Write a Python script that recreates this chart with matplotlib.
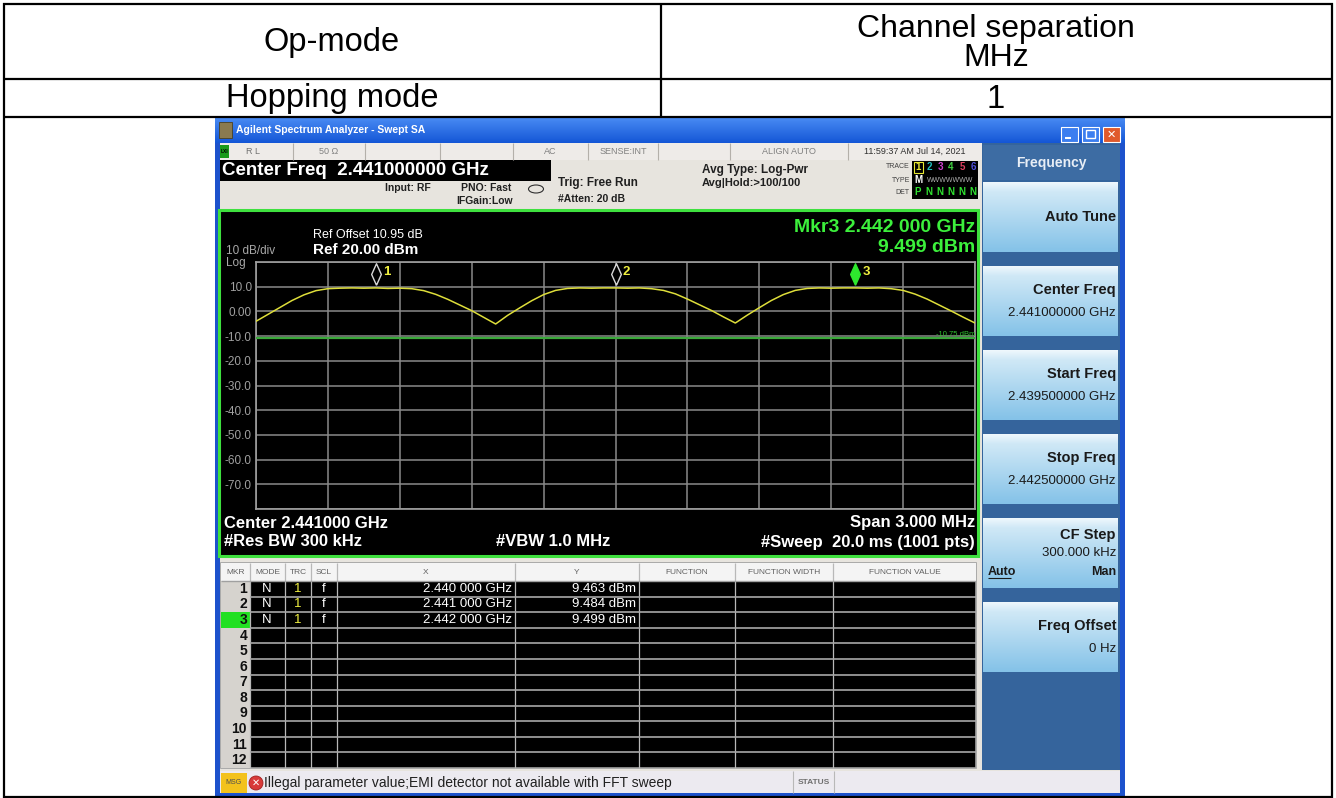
import numpy as np
import matplotlib.pyplot as plt
import matplotlib.transforms as mtransforms
from matplotlib.patches import Rectangle, Circle, Ellipse
from matplotlib.colors import to_rgb

plt.rcParams['font.family'] = ['Liberation Sans', 'DejaVu Sans']

# report table text
col_titles = ['Op-mode', 'Channel separation', 'MHz']
row_values = ['Hopping mode', '1']

# analyzer settings as shown on screen
center_mhz = 2441.0
span_mhz = 3.0
ref_dbm = 20.0
db_per_div = 10.0
line_dbm = -10.75
y_labels = ['', '-70.0', '-60.0', '-50.0', '-40.0', '-30.0', '-20.0', '-10.0', '0.00', '10.0', '']

# trace 1
trace_mhz = [2439.50, 2439.55, 2439.60, 2439.65, 2439.70, 2439.75, 2439.80, 2439.85, 2439.90, 2439.95,
             2440.00, 2440.05, 2440.10, 2440.15, 2440.20, 2440.25, 2440.30, 2440.35, 2440.40, 2440.45,
             2440.50, 2440.55, 2440.60, 2440.65, 2440.70, 2440.75, 2440.80, 2440.85, 2440.90, 2440.95,
             2441.00, 2441.05, 2441.10, 2441.15, 2441.20, 2441.25, 2441.30, 2441.35, 2441.40, 2441.45,
             2441.50, 2441.55, 2441.60, 2441.65, 2441.70, 2441.75, 2441.80, 2441.85, 2441.90, 2441.95,
             2442.00, 2442.05, 2442.10, 2442.15, 2442.20, 2442.25, 2442.30, 2442.35, 2442.40, 2442.45,
             2442.50]
trace_dbm = [-4.0, -1.2, 1.6, 4.4, 6.7, 8.4, 9.2, 9.4, 9.5, 9.4,
             9.5, 9.3, 9.4, 9.2, 8.4, 6.9, 4.9, 2.6, 0.3, -2.4,
             -5.1, -1.6, 1.4, 4.3, 6.8, 8.5, 9.3, 9.5, 9.4, 9.5,
             9.5, 9.4, 9.5, 9.2, 8.5, 7.1, 5.0, 2.7, 0.4, -2.2,
             -4.7, -1.5, 1.5, 4.4, 6.8, 8.5, 9.3, 9.5, 9.4, 9.5,
             9.5, 9.4, 9.5, 9.2, 8.5, 7.0, 5.0, 2.6, 0.2, -2.3,
             -4.7]

# marker table
mkr_mhz = [2440.0, 2441.0, 2442.0]
mkr_dbm = [9.463, 9.484, 9.499]
mkr_x_text = ['2.440 000 GHz', '2.441 000 GHz', '2.442 000 GHz']
mkr_cols = ['MKR', 'MODE', 'TRC', 'SCL', 'X', 'Y', 'FUNCTION', 'FUNCTION WIDTH', 'FUNCTION VALUE']

# softkey menu
key_titles = ['Auto Tune', 'Center Freq', 'Start Freq', 'Stop Freq', 'CF Step', 'Freq Offset']
key_values = ['', '2.441000000 GHz', '2.439500000 GHz', '2.442500000 GHz', '300.000 kHz', '0 Hz']

# status line cells
status_text = ['R L', '50 \u03a9', '', '', 'AC', 'SENSE:INT', '', 'ALIGN AUTO', '11:59:37 AM Jul 14, 2021']

W, H = 1336, 798
fig = plt.figure(figsize=(W / 100, H / 100), dpi=100)
ax = fig.add_axes([0, 0, 1, 1])
ax.axis('off')


def rect(x0, y0, x1, y1, fc, ec='none', lw=0, z=2):
    ax.add_patch(Rectangle((x0, y0), x1 - x0, y1 - y0, fc=fc, ec=ec, lw=lw, zorder=z))


def grad(x0, y0, x1, y1, c0, c1, z=1):
    g = np.linspace(0, 1, 64)[:, None, None]
    img = (1 - g) * np.array(to_rgb(c0)) + g * np.array(to_rgb(c1))
    ax.imshow(img, extent=[x0, x1, y1, y0], aspect='auto', zorder=z, interpolation='bilinear')


def txt(x, y, s, size=9, color='black', ha='left', weight='normal', **kw):
    ax.text(x, y, s, fontsize=size, color=color, ha=ha, va='center', fontweight=weight, zorder=6, **kw)


def hline(y, x0, x1, color, lw, z=3):
    ax.plot([x0, x1], [y, y], color=color, lw=lw, zorder=z, solid_capstyle='butt')


def vline(x, y0, y1, color, lw, z=3):
    ax.plot([x, x], [y0, y1], color=color, lw=lw, zorder=z, solid_capstyle='butt')


# ---- outer report table ----
for y in [4, 79, 117, 797]:
    hline(y, 3, 1333, 'black', 1.6, z=8)
vline(4, 3, 798, 'black', 1.6, z=8)
vline(1332, 3, 798, 'black', 1.6, z=8)
vline(661, 4, 117, 'black', 1.6, z=8)
txt(332, 43, col_titles[0], size=23.5, ha='center')
txt(996, 29, col_titles[1], size=23, ha='center')
txt(996, 58, col_titles[2], size=23, ha='center')
txt(332, 99, row_values[0], size=23.5, ha='center')
txt(996, 99, row_values[1], size=23.5, ha='center')

# ---- analyzer window chrome ----
rect(215, 117, 1125, 797, '#e7e4de', z=0)
grad(215, 117, 1125, 143, '#4a8cf4', '#1456d6')
rect(215, 143, 220, 797, '#1d52cc')
rect(1120, 143, 1125, 797, '#1d52cc')
rect(215, 793, 1125, 797, '#1d52cc')
rect(219, 122, 232, 138, '#8a7a50', ec='#4a4020', lw=0.6)
txt(236, 130, 'Agilent Spectrum Analyzer - Swept SA', size=7.5, color='white', weight='bold')
for bx, bc in [(1061, '#3c7ef0'), (1082, '#3c7ef0'), (1103, '#e05a2c')]:
    ax.add_patch(Rectangle((bx, 127), 17, 15, fc=bc, ec='white', lw=0.8, zorder=3))
hline(138, 1065, 1071, 'white', 1.5, z=4)
ax.add_patch(Rectangle((1086, 130), 9, 8, fc='none', ec='white', lw=1.0, zorder=4))
txt(1111.5, 134.5, '\u2715', size=8, color='white', ha='center', weight='bold')

# status line
rect(220, 143, 982, 160, '#eeebe8')
cell_edges = [220, 293, 365, 440, 513, 588, 658, 730, 848, 982]
for x in cell_edges[1:-1]:
    vline(x, 143, 160, '#b4b0aa', 0.8)
rect(220, 145, 229, 158, '#1a9a1a')
txt(224.5, 151.5, 'LXI', size=3.5, color='black', ha='center', weight='bold')
for i, s in enumerate(status_text):
    if not s:
        continue
    cx = (cell_edges[i] + cell_edges[i + 1]) / 2
    if i == 0:
        txt(246, 151.5, s, size=6.5, color='#707070')
    else:
        txt(cx, 151.5, s, size=6.5, color='#303030' if i == 8 else '#808080', ha='center')

# settings area
rect(220, 160, 551, 181, 'black')
txt(222, 170.5, 'Center Freq  2.441000000 GHz', size=13.5, color='white', weight='bold')
txt(385, 188, 'Input: RF', size=7.5, color='#202020', weight='bold')
txt(461, 188, 'PNO: Fast', size=7.5, color='#202020', weight='bold')
txt(456, 201, 'IFGain:Low', size=7.5, color='#202020', weight='bold')
ax.add_patch(Ellipse((536, 189), 15, 8, fc='none', ec='#303030', lw=0.8, zorder=4))
txt(558, 183, 'Trig: Free Run', size=8.5, color='#202020', weight='bold')
txt(558, 199, '#Atten: 20 dB', size=7.5, color='#202020', weight='bold')
txt(702, 170, 'Avg Type: Log-Pwr', size=8.5, color='#202020', weight='bold')
txt(702, 183, 'Avg|Hold:>100/100', size=8, color='#202020', weight='bold')
for yy, lab in [(167, 'TRACE'), (180, 'TYPE'), (192, 'DET')]:
    txt(910, yy, lab, size=5, color='#404040', ha='right')
rect(912, 161, 978, 199, 'black')
trace_colors = ['#e8e830', '#20c0c0', '#d040d0', '#40d040', '#e04060', '#5050e0']
for i, c in enumerate(trace_colors):
    txt(918 + i * 11, 167, str(i + 1), size=7, color=c, ha='center', weight='bold')
ax.add_patch(Rectangle((913.5, 161.5), 9, 11, fc='none', ec='#e8e830', lw=0.8, zorder=5))
txt(918, 180, 'M', size=7, color='white', ha='center', weight='bold')
txt(950, 180, 'WWWWWWW', size=5, color='#b0b0b0', ha='center')
txt(918, 192, 'P', size=7, color='#30e030', ha='center', weight='bold')
for i in range(1, 6):
    txt(918 + i * 11, 192, 'N', size=7, color='#30e030', ha='center', weight='bold')

# graph window
rect(219, 210, 978, 556, 'black', ec='#3ee03e', lw=2.2)
txt(226, 251, '10 dB/div', size=8.5, color='#a8a8a8')
txt(226, 263, 'Log', size=8.5, color='#a8a8a8')
txt(313, 235, 'Ref Offset 10.95 dB', size=9, color='white')
txt(313, 250, 'Ref %.2f dBm' % ref_dbm, size=11, color='white', weight='bold')
txt(975, 228, 'Mkr3 ' + mkr_x_text[2], size=14, color='#3cf03c', ha='right', weight='bold')
txt(975, 247, '%.3f dBm' % mkr_dbm[2], size=14, color='#3cf03c', ha='right', weight='bold')
txt(224, 523, 'Center %.6f GHz' % (center_mhz / 1000), size=12, color='white', weight='bold')
txt(224, 542, '#Res BW 300 kHz', size=12, color='white', weight='bold')
txt(496, 542, '#VBW 1.0 MHz', size=12, color='white', weight='bold')
txt(975, 523, 'Span %.3f MHz' % span_mhz, size=12, color='white', weight='bold', ha='right')
txt(975, 542, '#Sweep  20.0 ms (1001 pts)', size=12, color='white', weight='bold', ha='right')

# marker table
tx0, tx1, ty0, ty1 = 221, 976, 563, 768
rect(tx0, ty0, tx1, ty1, 'black', ec='#a0a0a0', lw=1.2)
rect(tx0, ty0, tx1, 581, '#f4f4f4')
rect(tx0, 581, 250, ty1, '#d6d3ce')
col_edges = [221, 250, 285, 311, 337, 515, 639, 735, 833, 976]
row_h = (ty1 - 581) / 12
rect(tx0, 581 + 2 * row_h, 250, 581 + 3 * row_h, '#22e022', z=2.5)
for x in col_edges[1:-1]:
    vline(x, ty0, ty1, '#b8b8b8', 0.9)
for r in range(1, 12):
    hline(581 + r * row_h, 250, tx1, '#a8a8a8', 1.2)
hline(581, tx0, tx1, '#a0a0a0', 1.0)
for i, c in enumerate(mkr_cols):
    cx = (col_edges[i] + col_edges[i + 1]) / 2
    txt(cx, 572, c, size=6, color='#606060', ha='center')
for r in range(12):
    cy = 581 + (r + 0.5) * row_h
    txt(247, cy, str(r + 1), size=10, color='#101010', ha='right', weight='bold')
    if r < len(mkr_mhz):
        txt(267, cy, 'N', size=9.5, color='white', ha='center')
        txt(298, cy, '1', size=9.5, color='#f0f040', ha='center')
        txt(324, cy, 'f', size=9.5, color='white', ha='center')
        txt(512, cy, mkr_x_text[r], size=9.5, color='white', ha='right')
        txt(636, cy, '%.3f dBm' % mkr_dbm[r], size=9.5, color='white', ha='right')

# softkey panel
rect(982, 143, 1120, 770, '#35649c', z=1)
rect(983, 145, 1120, 180, '#3d6ca3', z=1.2)
txt(1051, 163, 'Frequency', size=10, color='#e8eef6', ha='center', weight='bold')
key_tops = [182, 266, 350, 434, 518, 602]
for k, top in enumerate(key_tops):
    grad(983, top, 1118, top + 10, '#f0f8fd', '#cfe8f6', z=2.5)
    grad(983, top + 10, 1118, top + 70, '#cfe8f6', '#84c2e8', z=2.5)
    title, value = key_titles[k], key_values[k]
    if not value:
        txt(1116, top + 35, title, size=10.5, color='#1a1a1a', ha='right', weight='bold')
    elif title == 'CF Step':
        txt(1116, top + 17, title, size=10.5, color='#1a1a1a', ha='right', weight='bold')
        txt(1116, top + 35, value, size=9.5, color='#1a1a1a', ha='right')
        txt(988, top + 54, 'Auto', size=9, color='#1a1a1a', weight='bold')
        hline(top + 60, 988, 1011, '#1a1a1a', 0.8, z=6)
        txt(1116, top + 54, 'Man', size=9, color='#1a1a1a', ha='right', weight='bold')
    else:
        txt(1116, top + 24, title, size=10.5, color='#1a1a1a', ha='right', weight='bold')
        txt(1116, top + 47, value, size=9.5, color='#1a1a1a', ha='right')

# message bar
rect(220, 771, 1120, 793, '#eceaf0')
rect(221, 773, 247, 793, '#f3c21c')
txt(234, 783, 'MSG', size=5, color='#505050', ha='center')
ax.add_patch(Circle((256, 783), 7, fc='#d83a3a', ec='#a02020', lw=0.6, zorder=4))
txt(256, 783, '\u2715', size=7, color='white', ha='center', weight='bold')
txt(264, 783, 'Illegal parameter value;EMI detector not available with FFT sweep', size=10, color='#202020')
vline(793, 771, 793, '#b8b8b8', 0.8)
vline(834, 771, 793, '#b8b8b8', 0.8)
txt(813.5, 782, 'STATUS', size=6, color='#707070', ha='center', weight='bold')

ax.set_xlim(0, W)
ax.set_ylim(H, 0)

# ---- spectrum plot ----
px0, px1, py0, py1 = 256, 975, 262, 509
pax = fig.add_axes([px0 / W, 1 - py1 / H, (px1 - px0) / W, (py1 - py0) / H])
pax.set_facecolor('black')
pax.set_xlim(center_mhz - span_mhz / 2, center_mhz + span_mhz / 2)
pax.set_ylim(ref_dbm - 10 * db_per_div, ref_dbm)
pax.set_xticks(np.linspace(center_mhz - span_mhz / 2, center_mhz + span_mhz / 2, 11))
pax.set_yticks(np.arange(ref_dbm - 10 * db_per_div, ref_dbm + 1, db_per_div))
pax.set_xticklabels([])
pax.set_yticklabels(y_labels)
pax.tick_params(length=0, labelcolor='#a0a0a0', labelsize=8.5, pad=3)
pax.grid(True, color='#8a8a8a', lw=1.1)
for sp in pax.spines.values():
    sp.set_color('#a0a0a0')
    sp.set_linewidth(1.2)

pax.axhline(line_dbm, color='#3aa83a', lw=1.6, zorder=3)
pax.text(center_mhz + span_mhz / 2, line_dbm, '%.2f dBm' % line_dbm, color='#30c030',
         fontsize=5.5, ha='right', va='bottom')
pax.plot(trace_mhz, trace_dbm, color='#dede3a', lw=1.1, zorder=4)

diamond = [(0, -1), (0.45, 0), (0, 1), (-0.45, 0), (0, -1)]
up = mtransforms.offset_copy(pax.transData, fig=fig, y=14, units='dots')
lab = mtransforms.offset_copy(pax.transData, fig=fig, x=7, y=16, units='dots')
for i, (f, v) in enumerate(zip(mkr_mhz, mkr_dbm)):
    active = i == len(mkr_mhz) - 1
    pax.plot([f], [v], marker=diamond, ms=15.5, transform=up, clip_on=False, zorder=6,
             mfc='#2ee82e' if active else 'black', mec='#2ee82e' if active else '#d8d8d8', mew=1.0)
    pax.text(f, v, str(i + 1), transform=lab, color='#f0f040', fontsize=9.5, fontweight='bold',
             va='center', ha='left', zorder=6)

fig.savefig('out.png', dpi=100)
